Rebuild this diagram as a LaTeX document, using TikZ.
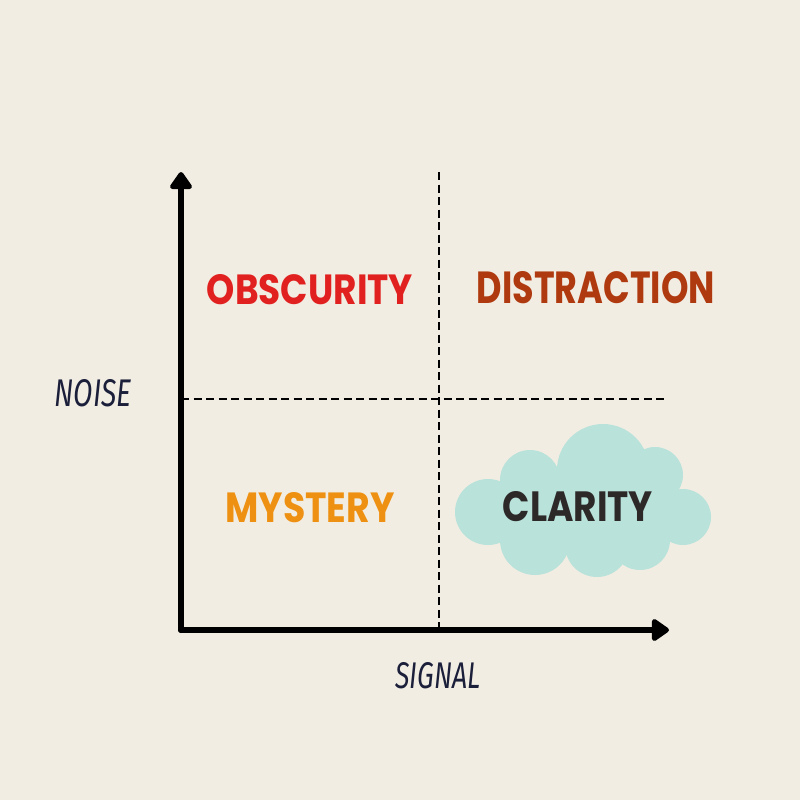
\documentclass[tikz,border=0pt]{standalone}
\usepackage{fontspec}
\usepackage{graphicx}
\usetikzlibrary{arrows.meta}
\newfontfamily\quadfont{Poppins}
\newfontfamily\axisfont{Fira Sans}
\definecolor{bgcol}{HTML}{F2EDE3}
\definecolor{cloudcol}{HTML}{B8E2DA}
\definecolor{obscol}{HTML}{E1211F}
\definecolor{discol}{HTML}{AF3A0F}
\definecolor{myscol}{HTML}{EE9112}
\definecolor{clacol}{HTML}{2D2929}
\definecolor{axcol}{HTML}{1B1F3A}
\tikzset{
  axisline/.style={line width=0.06cm, line cap=round, -{Triangle[width=0.25cm,length=0.19cm,round]}},
  divider/.style={line width=0.028cm, dash pattern=on 0.08cm off 0.045cm},
  quadlabel/.style={inner sep=0pt, font=\quadfont\bfseries},
  axislabel/.style={inner sep=0pt, text=axcol, font=\axisfont\itshape}
}
\begin{document}
\begin{tikzpicture}[x=0.01cm, y=-0.01cm]
        % Sfondo
        \fill[bgcol] (0,0) rectangle (800,800);
        \useasboundingbox (0,0) rectangle (800,800);

        % Disegna la nuvola
        \fill[cloudcol] (502,485) rectangle (668,542);
        \foreach \cx/\cy/\r in {488/512/33, 530/480/30, 603/470/46, 655/475/28,
                                683/517/28, 640/540/30, 597/545/32, 535/540/35} {
            \fill[cloudcol] (\cx,\cy) circle [radius=\r];
        }

        % Disegna le linee tratteggiate
        \coordinate (O) at (181,630);
        \coordinate (ytip) at (181,172);
        \coordinate (xtip) at (669,630);
        \coordinate (vtop) at (439,172);
        \coordinate (vbot) at (439,630);
        \coordinate (hleft) at (181,399);
        \coordinate (hright) at (668,399);
        \draw[divider] (vtop) -- (vbot);
        \draw[divider] (hleft) -- (hright);

        % Disegna gli assi
        \draw[axisline] (O) -- (ytip);
        \draw[axisline] (O) -- (xtip);

        % Etichette dei quadranti
        \node[quadlabel, text=obscol] (obscurity) at (310,290) {\resizebox{2.06cm}{0.30cm}{OBSCURITY}};
        \node[quadlabel, text=discol] (distraction) at (596,288) {\resizebox{2.38cm}{0.32cm}{DISTRACTION}};
        \node[quadlabel, text=myscol] (mystery) at (310,508) {\resizebox{1.69cm}{0.30cm}{MYSTERY}};
        \node[quadlabel, text=clacol] (clarity) at (578,507) {\resizebox{1.50cm}{0.30cm}{CLARITY}};

        % Etichette degli assi
        \node[axislabel] (noise) at (93,393) {\resizebox{0.77cm}{0.27cm}{NOISE}};
        \node[axislabel] (signal) at (438,676) {\resizebox{0.85cm}{0.26cm}{SIGNAL}};
\end{tikzpicture}
\end{document}
